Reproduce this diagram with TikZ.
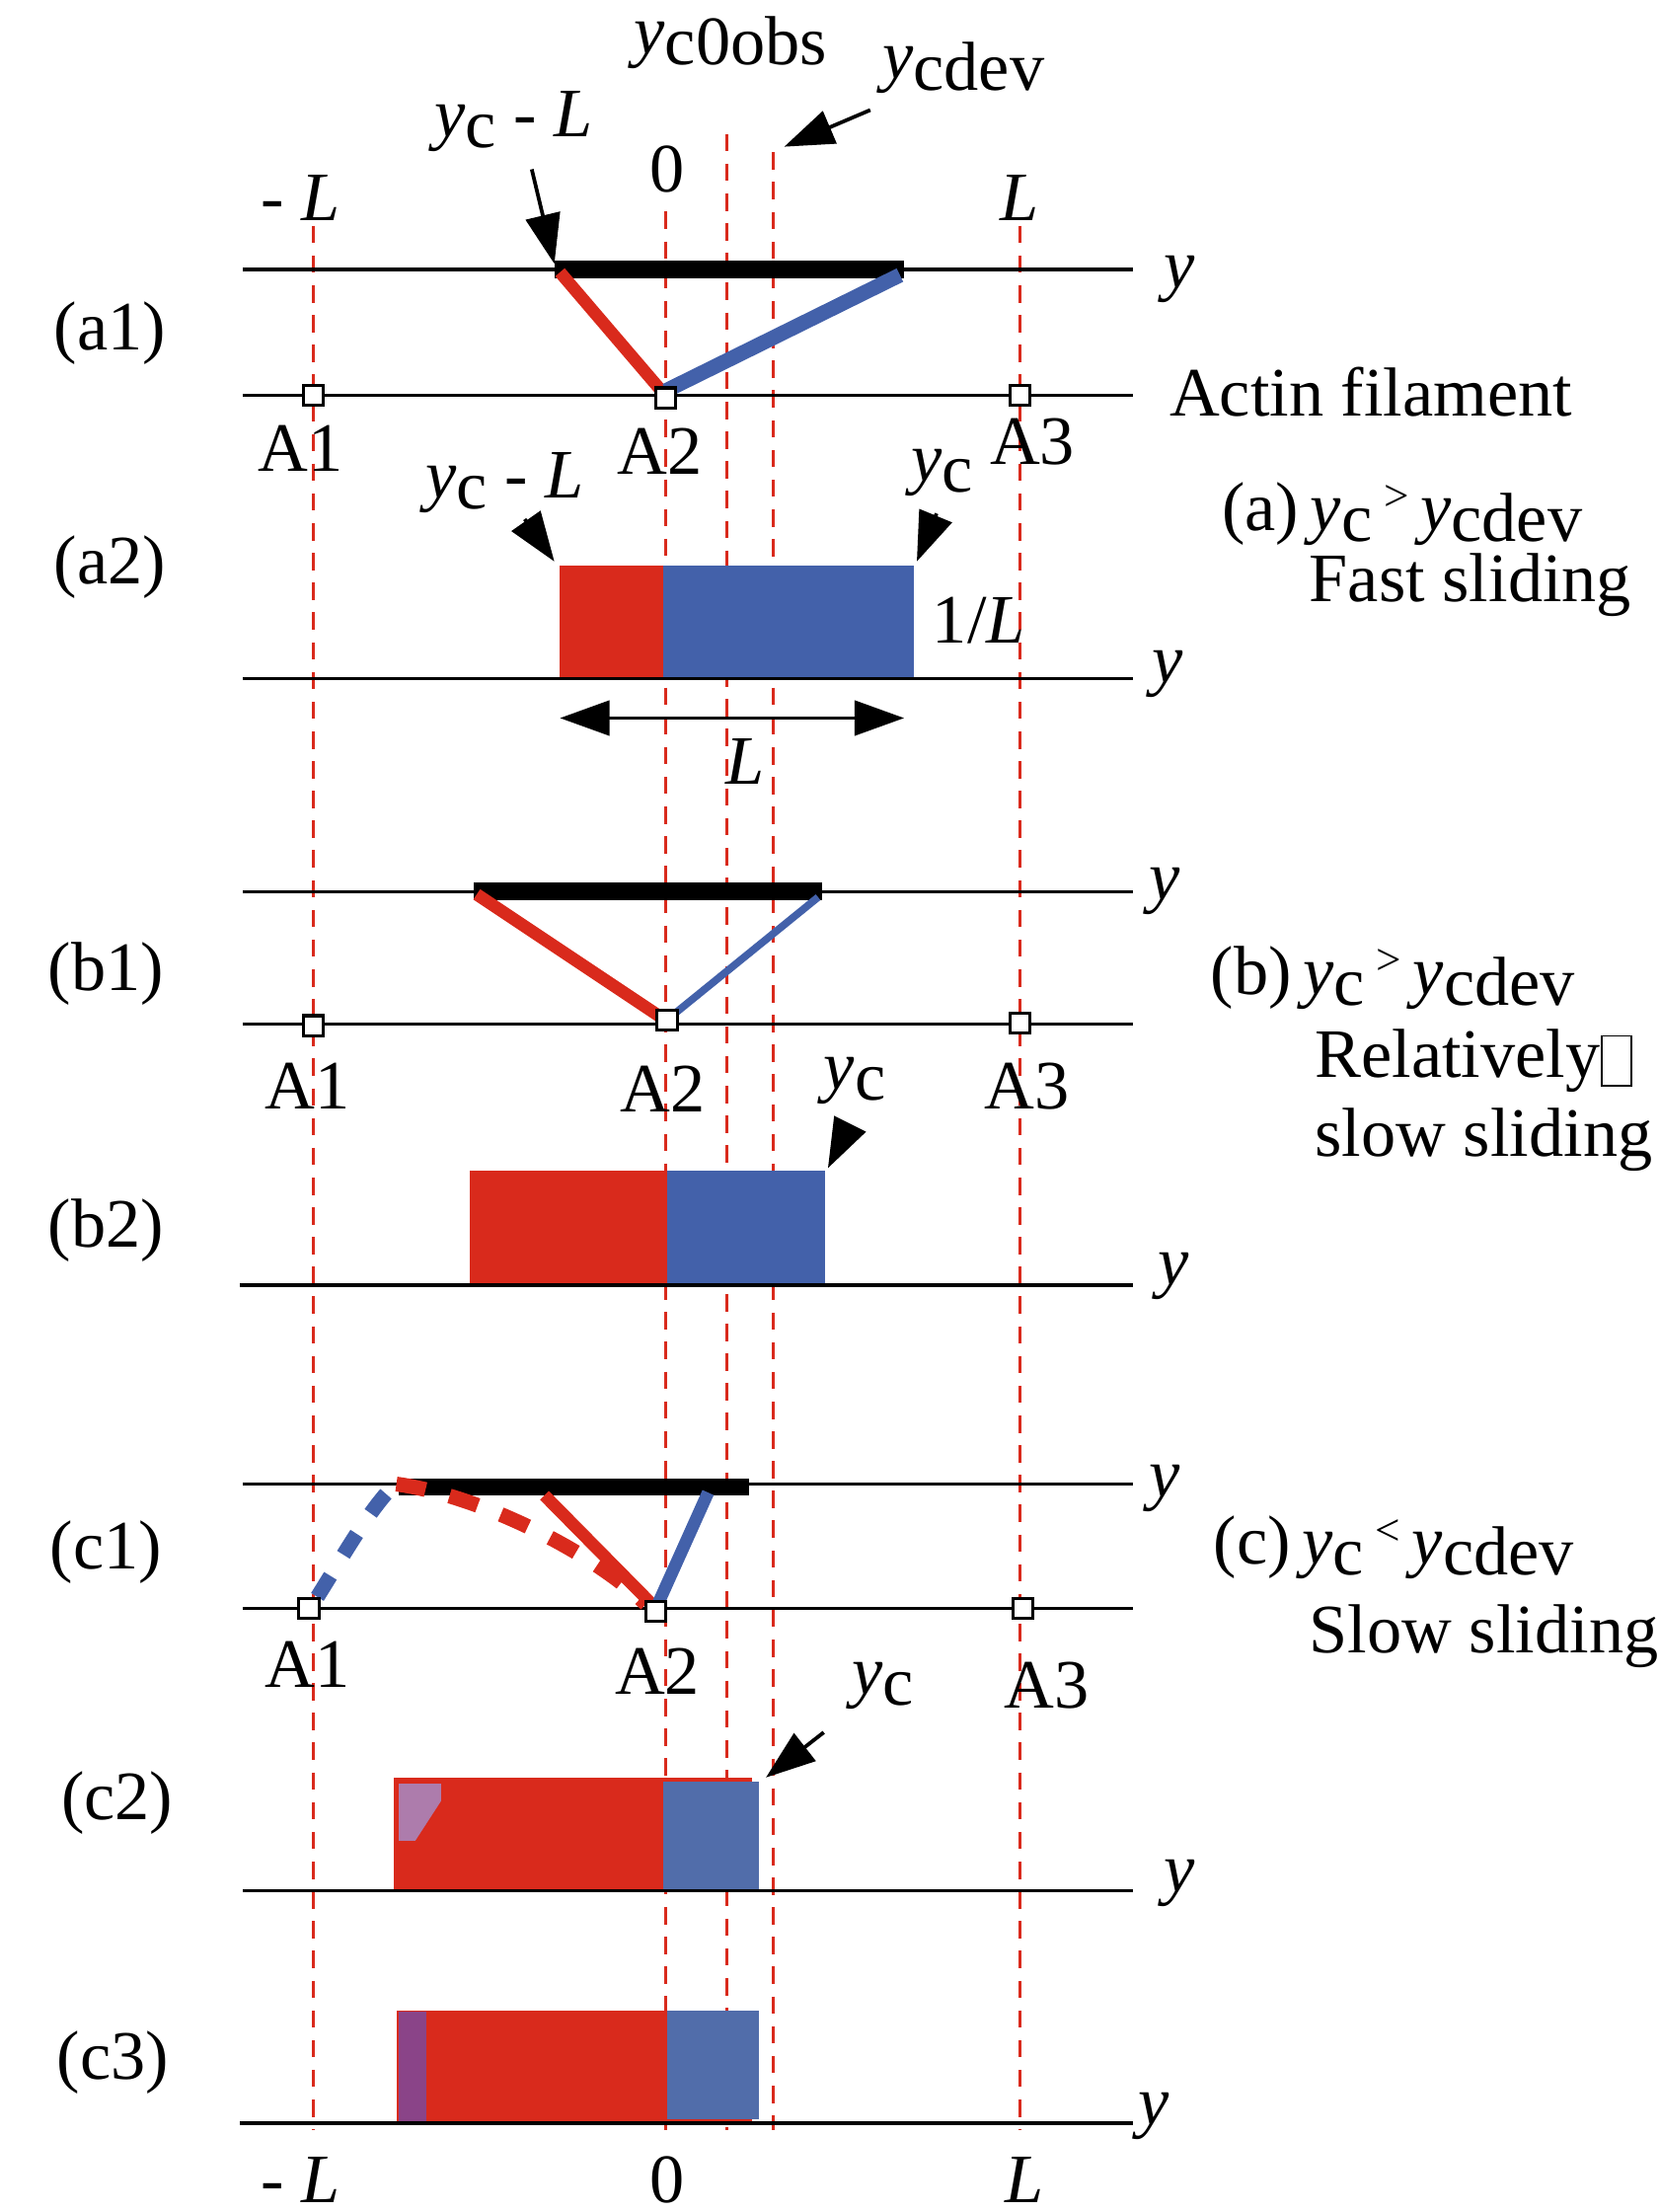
\documentclass[tikz,border=0pt]{standalone}
\usepackage{fontspec}
\setmainfont{Liberation Serif}
\usetikzlibrary{arrows.meta}
\definecolor{rd}{HTML}{D92A1C}
\definecolor{bl}{HTML}{4361AA}
\definecolor{bl2}{HTML}{516DAA}
\definecolor{pu}{HTML}{8A4488}
\newcommand{\yy}[1]{\textit{y}\raisebox{-0.35ex}{#1}}
\begin{document}
\begin{tikzpicture}[x=0.02cm,y=-0.02cm,
  txt/.style={font=\fontsize{28}{32}\selectfont,inner sep=0},
  axis/.style={line width=1.3pt},
  guide/.style={rd,line width=1.2pt,dash pattern=on 7pt off 5pt},
  bar/.style={line width=7pt},
  arr/.style={line width=1.5pt,-{Triangle[length=20pt,width=14pt]}},
  sq/.style={draw,line width=1.2pt,fill=white,minimum size=8pt,inner sep=0},
  yl/.style={txt,font=\fontsize{28}{32}\selectfont\itshape}]
\useasboundingbox (0,0) rectangle (1176,1568);
% guides
\draw[guide] (222,160) -- (222,1510);
\draw[guide] (472,150) -- (472,1510);
\draw[guide] (515,95) -- (515,1510);
\draw[guide] (548,108) -- (548,1510);
\draw[guide] (723,160) -- (723,1510);
% top labels
\node[txt] (mL) at (213,140) {- \textit{L}};
\node[txt] (z) at (473,120) {0};
\node[txt] (pL) at (723,140) {\textit{L}};
\node[txt] (obs) at (518,30) {\yy{c0obs}};
\node[txt] (dev) at (683,48) {\yy{cdev}};
\coordinate (devt) at (556,104);
\draw[arr] (617,78) -- (devt);
\node[txt] (ycl1) at (364,86) {\yy{c} - \textit{L}};
\coordinate (ycl1t) at (393,187);
\draw[arr] (377,120) -- (ycl1t);
% (a1)
\node[txt] (a1) at (78,236) {(a1)};
\draw[axis] (172,191) -- (803,191);
\draw[axis] (172,280) -- (803,280);
\draw[bar] (393,191) -- (641,191);
\draw[rd,line width=5pt] (397,193) -- (468,276);
\draw[bl,line width=6pt] (472,277) -- (638,195);
\node[sq] (a1A1) at (222,280) {};
\node[sq] (a1A2) at (472,282) {};
\node[sq] (a1A3) at (723,280) {};
\node[txt] at (213,318) {A1};
\node[txt] at (468,320) {A2};
\node[txt] at (732,313) {A3};
\node[yl] at (836,198) {y};
\node[txt] (act) at (972,278) {Actin filament};
% (a2)
\node[txt] (a2) at (78,402) {(a2)};
\fill[rd] (397,401) rectangle (470,481);
\fill[bl] (470,401) rectangle (648,481);
\draw[axis] (172,481) -- (803,481);
\node[txt] at (694,440) {1/\textit{L}};
\node[yl] at (828,478) {y};
\node[txt] (ycl2) at (358,342) {\yy{c} - \textit{L}};
\coordinate (ycl2t) at (393,398);
\draw[arr] (372,368) -- (ycl2t);
\node[txt] (yc2) at (668,335) {\yy{c}};
\coordinate (yc2t) at (650,398);
\draw[arr] (664,364) -- (yc2t);
\coordinate (la) at (397,509);
\coordinate (lb) at (641,509);
\draw[line width=1.5pt,{Triangle[length=20pt,width=14pt]}-{Triangle[length=20pt,width=14pt]}] (la) -- (lb);
\node[txt] at (528,540) {\textit{L}};
\node[txt,anchor=west] at (866,364) {(a)\,\yy{c}\,\raisebox{0.6ex}{\fontsize{18}{20}\selectfont>}\,\yy{cdev}};
\node[txt,anchor=west] at (928,415) {Fast sliding};
% (b1)
\node[txt] (b1) at (75,690) {(b1)};
\draw[axis] (172,632) -- (803,632);
\draw[axis] (172,726) -- (803,726);
\draw[bar] (336,632) -- (583,632);
\draw[rd,line width=5pt] (338,634) -- (470,722);
\draw[bl,line width=3pt] (474,722) -- (580,636);
\node[sq] at (222,727) {};
\node[sq] at (473,723) {};
\node[sq] at (723,725) {};
\node[txt] at (218,770) {A1};
\node[txt] at (470,772) {A2};
\node[txt] at (728,770) {A3};
\node[yl] at (826,632) {y};
\node[txt,anchor=west] at (858,693) {(b)\,\yy{c}\,\raisebox{0.6ex}{\fontsize{18}{20}\selectfont>}\,\yy{cdev}};
\node[txt,anchor=west] (rel) at (932,752) {Relatively};
\node[draw,line width=0.6pt,minimum width=12pt,minimum height=20pt,inner sep=0,anchor=west] at (rel.east) {};
\node[txt,anchor=west] at (932,808) {slow sliding};
% (b2)
\node[txt] (b2) at (75,872) {(b2)};
\fill[rd] (333,830) rectangle (473,911);
\fill[bl] (473,830) rectangle (585,911);
\draw[axis] (170,911) -- (803,911);
\node[yl] at (832,905) {y};
\node[txt] (yc3) at (606,766) {\yy{c}};
\coordinate (yc3t) at (587,828);
\draw[arr] (602,798) -- (yc3t);
% (c1)
\node[txt] (c1) at (75,1100) {(c1)};
\draw[axis] (172,1052) -- (803,1052);
\draw[axis] (172,1140) -- (803,1140);
\draw[bar] (283,1054) -- (531,1054);
\draw[rd,line width=5pt] (386,1060) -- (462,1137);
\draw[bl,line width=5pt] (466,1138) -- (502,1058);
\draw[rd,line width=6pt,dash pattern=on 12pt off 10pt] (281,1052) .. controls (340,1060) and (420,1100) .. (458,1137);
\draw[bl,line width=6pt,dash pattern=on 10pt off 10pt] (225,1132) .. controls (245,1100) and (262,1070) .. (280,1052);
\node[sq] at (219,1140) {};
\node[sq] at (465,1142) {};
\node[sq] at (725,1140) {};
\node[txt] at (218,1180) {A1};
\node[txt] at (466,1185) {A2};
\node[txt] at (742,1195) {A3};
\node[yl] at (826,1055) {y};
\node[txt,anchor=west] at (860,1097) {(c)\,\yy{c}\,\raisebox{0.6ex}{\fontsize{18}{20}\selectfont<}\,\yy{cdev}};
\node[txt,anchor=west] at (928,1160) {Slow sliding};
% (c2)
\node[txt] (c2) at (83,1278) {(c2)};
\fill[rd] (279,1260) rectangle (533,1340);
\fill[pu!70!white] (283,1264) rectangle (313,1305);
\fill[rd] (321,1264) -- (352,1282) -- (318,1336) -- (286,1318) -- cycle;
\fill[bl2] (470,1263) rectangle (538,1340);
\draw[axis] (172,1340) -- (803,1340);
\node[yl] at (836,1335) {y};
\node[txt] (yc4) at (626,1195) {\yy{c}};
\coordinate (yc4t) at (543,1260);
\draw[arr] (584,1228) -- (yc4t);
% (c3)
\node[txt] (c3) at (80,1462) {(c3)};
\fill[rd] (281,1425) rectangle (533,1505);
\fill[pu] (283,1426) rectangle (302,1505);
\fill[bl2] (473,1425) rectangle (538,1502);
\draw[axis] (170,1505) -- (803,1505);
\node[yl] at (818,1500) {y};
\node[txt] at (213,1545) {- \textit{L}};
\node[txt] at (473,1545) {0};
\node[txt] at (726,1545) {\textit{L}};
\end{tikzpicture}
\end{document}
